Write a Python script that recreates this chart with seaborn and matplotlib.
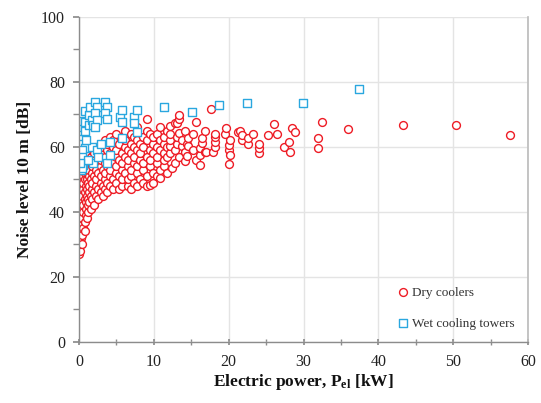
import matplotlib
matplotlib.use("Agg")
import matplotlib.pyplot as plt
import seaborn as sns
import pandas as pd
from matplotlib.ticker import MultipleLocator

# Dry coolers: electric power [kW] and noise level at 10 m [dB]
dry_power = [
    0.05, 0.05, 0.05, 0.05,
    0.15, 0.15, 0.15, 0.15, 0.15,
    0.25, 0.25, 0.25, 0.25, 0.25,
    0.35, 0.35, 0.35, 0.35, 0.35,
    0.45, 0.45, 0.45, 0.45, 0.45, 0.45,
    0.6, 0.6, 0.6, 0.6, 0.6, 0.6,
    0.75, 0.75, 0.75, 0.75, 0.75, 0.75,
    0.9, 0.9, 0.9, 0.9, 0.9, 0.9,
    1.05, 1.05, 1.05, 1.05, 1.05, 1.05,
    1.2, 1.2, 1.2, 1.2, 1.2, 1.2,
    1.4, 1.4, 1.4, 1.4, 1.4, 1.4,
    1.6, 1.6, 1.6, 1.6, 1.6,
    1.8, 1.8, 1.8, 1.8, 1.8, 1.8,
    2.0, 2.0, 2.0, 2.0, 2.0,
    2.3, 2.3, 2.3, 2.3, 2.3, 2.3,
    2.6, 2.6, 2.6, 2.6, 2.6,
    2.9, 2.9, 2.9, 2.9, 2.9, 2.9,
    3.2, 3.2, 3.2, 3.2, 3.2,
    3.5, 3.5, 3.5, 3.5, 3.5, 3.5,
    3.8, 3.8, 3.8, 3.8, 3.8,
    4.1, 4.1, 4.1, 4.1, 4.1, 4.1,
    4.5, 4.5, 4.5, 4.5, 4.5,
    4.9, 4.9, 4.9, 4.9, 4.9, 4.9,
    5.3, 5.3, 5.3, 5.3,
    5.7, 5.7, 5.7, 5.7, 5.7, 5.7,
    6.1, 6.1, 6.1, 6.1, 6.1,
    6.5, 6.5, 6.5, 6.5, 6.5,
    6.9, 6.9, 6.9, 6.9, 6.9, 6.9,
    7.3, 7.3, 7.3, 7.3, 7.3,
    7.8, 7.8, 7.8, 7.8, 7.8, 7.8,
    8.2, 8.2, 8.2, 8.2,
    8.6, 8.6, 8.6, 8.6, 8.6,
    9.1, 9.1, 9.1, 9.1, 9.1, 9.1,
    9.5, 9.5, 9.5, 9.5, 9.5,
    9.9, 9.9, 9.9, 9.9, 9.9,
    10.4, 10.4, 10.4, 10.4, 10.4,
    10.8, 10.8, 10.8, 10.8, 10.8,
    11.3, 11.3, 11.3, 11.3, 11.3,
    11.8, 11.8, 11.8, 11.8,
    12.2, 12.2, 12.2, 12.2, 12.2,
    12.4,
    12.8, 12.8, 12.8,
    13.1, 13.1, 13.1,
    13.3, 13.3, 13.3, 13.3,
    13.7, 13.7,
    14.1, 14.1, 14.1,
    14.4, 14.4,
    14.6, 14.6,
    15.2, 15.2,
    15.7, 15.7,
    16.2, 16.2, 16.2,
    16.4, 16.4,
    16.8, 16.8,
    17.0, 17.7, 17.9,
    18.2, 18.2, 18.2, 18.2,
    19.5, 19.7,
    20.0, 20.0, 20.0,
    20.2, 20.2,
    21.3, 21.5,
    21.8, 21.8,
    22.6, 22.6,
    23.3,
    24.0, 24.0, 24.0,
    25.3, 26.0, 26.4, 27.4, 28.0, 28.2, 28.4, 28.9,
    32.0, 32.0, 32.5, 36.0, 43.3, 50.4, 57.6,
]
dry_noise = [
    27, 29, 31, 33,
    28, 30, 34, 36, 38,
    32, 35, 37, 40, 42,
    30, 39, 41, 44, 46,
    33, 36, 38, 43, 45, 48,
    35, 40, 42, 47, 49, 51,
    34, 37, 44, 46, 50, 52,
    39, 41, 43, 48, 53, 55,
    38, 45, 47, 50, 52, 56,
    40, 42, 44, 49, 54, 57,
    43, 46, 48, 51, 53, 58,
    41, 45, 50, 55, 57,
    44, 47, 49, 52, 54, 59,
    42, 46, 51, 56, 58,
    45, 48, 50, 53, 55, 60,
    44, 47, 52, 57, 59,
    46, 49, 51, 54, 56, 61,
    45, 48, 53, 58, 60,
    47, 50, 52, 55, 57, 62,
    46, 49, 54, 59, 61,
    48, 51, 53, 56, 58, 63,
    47, 50, 55, 60, 62,
    49, 52, 54, 57, 59, 64,
    47, 51, 56, 61,
    48, 50, 53, 55, 58, 63,
    52, 57, 60, 62, 65,
    48, 50, 54, 56, 59,
    47, 51, 53, 58, 61, 64,
    49, 55, 57, 60, 63,
    48, 52, 54, 59, 62, 66,
    50, 56, 58, 61,
    49, 53, 55, 60, 63,
    48, 51, 57, 62, 65, 68.5,
    48.2, 54, 56, 59, 64,
    49, 52, 58, 61, 63,
    51, 55, 57, 60, 64,
    50.3, 53, 59, 62, 66,
    54, 56, 58, 61, 63,
    52, 57, 60, 65,
    58.1, 60.2, 62, 64, 66.4,
    53.5,
    55, 59, 67.4,
    61, 63, 67.2,
    57, 64.3, 68.7, 69.8,
    60.2, 62.2,
    55.5, 58.5, 65,
    57.3, 61,
    60.2, 62.8,
    59, 64,
    56, 67.7,
    54.4, 57.6, 59.7,
    61.2, 62.6,
    58.5, 65,
    58.5, 71.6, 58.5,
    60, 61.5, 63.1, 64,
    64.1, 65.7,
    54.6, 59, 60.5,
    57.5, 62.1,
    64.6, 65,
    62.1, 63.6,
    61, 62.6,
    64.1,
    58, 59.5, 61,
    63.6, 67, 64.1, 60, 61.5, 58.5, 65.7, 64.6,
    59.6, 62.7, 67.6, 65.6, 66.6, 66.6, 63.5,
]

# Wet cooling towers
wet_power = [
    0.2, 0.3, 0.4, 0.4, 0.6, 0.6, 0.8, 0.8, 0.8, 1.3, 1.3, 1.5, 1.7, 1.9,
    2.2, 2.4, 2.2, 2.4, 2.2, 3.5, 3.7, 3.5, 3.7, 5.5, 5.7, 5.7, 7.3, 7.3,
    7.7, 11.3, 15.1, 18.7, 22.4, 29.9, 37.4,
    0.4, 0.8, 0.4, 0.4, 0.6, 0.4, 1.7, 2.4, 1.9, 2.6, 3.7, 4.1, 4.1, 5.7,
    7.7, 1.2, 0.2, 2.9, 1.0,
]
wet_noise = [
    57, 53, 63, 65, 66, 68, 71, 67.7, 65, 69.8, 66.7, 72.3, 68.2, 66.7,
    73.8, 72.3, 70.3, 68.2, 66.2, 73.8, 72.3, 70.3, 68.7, 69.2, 71.3, 67.7, 69.2, 67.2,
    71.3, 72.3, 70.8, 72.8, 73.5, 73.5, 77.8,
    61, 59.5, 59, 56.9, 54.4, 53.4, 60, 59, 54.9, 56.9, 54.9, 57.4, 61.5, 62.6,
    64.6, 56, 55, 61, 62,
]

series_names = ["Dry coolers", "Wet cooling towers"]
series_colors = ["#ee1c25", "#2aa7df"]
series_markers = ["o", "s"]

dry = pd.DataFrame({"power": dry_power, "noise": dry_noise})
wet = pd.DataFrame({"power": wet_power, "noise": wet_noise})

sns.set_theme(style="white")
plt.rcParams["font.family"] = ["Liberation Serif", "DejaVu Serif"]
plt.rcParams["mathtext.fontset"] = "custom"
plt.rcParams["mathtext.rm"] = "Liberation Serif:bold"
plt.rcParams["mathtext.it"] = "Liberation Serif:italic:bold"
plt.rcParams["mathtext.bf"] = "Liberation Serif:bold"

fig = plt.figure(figsize=(5.41, 4.03), dpi=100)
ax = fig.add_axes([0.146, 0.152, 0.830, 0.806])

for df, name, col, mk, size in zip([dry, wet], series_names, series_colors,
                                   series_markers, [32, 28]):
    sns.scatterplot(data=df, x="power", y="noise", marker=mk, s=size,
                    linewidth=1.0, ax=ax, label=name, legend=False)
    coll = ax.collections[-1]
    coll.set_facecolor("white")
    coll.set_edgecolor(col)
    coll.set_linewidth(1.0)

ax.set_xlim(0, 60)
ax.set_ylim(0, 100)
ax.xaxis.set_major_locator(MultipleLocator(10))
ax.xaxis.set_minor_locator(MultipleLocator(5))
ax.yaxis.set_major_locator(MultipleLocator(20))
ax.yaxis.set_minor_locator(MultipleLocator(10))
ax.grid(True, which="major", color="#e4e4e4", linewidth=1.0)
ax.set_axisbelow(True)

for side in ["left", "bottom"]:
    ax.spines[side].set_color("#8c8c8c")
    ax.spines[side].set_linewidth(1.0)
ax.spines["right"].set_color("#bdbdbd")
ax.spines["top"].set_visible(False)

ax.tick_params(axis="x", which="both", direction="inout", length=5,
               color="#8c8c8c", labelsize=11.5, pad=6, bottom=True)
ax.tick_params(axis="y", which="both", direction="out", length=4,
               color="#8c8c8c", labelsize=11.5, pad=6, left=True)
for lbl in ax.get_xticklabels() + ax.get_yticklabels():
    lbl.set_color("#222222")

ax.set_xlabel(r"Electric power, P$_{\rm el}$ [kW]", fontsize=12.5,
              fontweight="bold", color="#111111", labelpad=2)
ax.set_ylabel("Noise level 10 m [dB]", fontsize=12.5, fontweight="bold",
              color="#111111", labelpad=6)

leg = ax.legend(loc="lower right", bbox_to_anchor=(0.997, 0.0),
                frameon=False, fontsize=9.5, labelspacing=1.45,
                handletextpad=0.2, handlelength=1.0, markerscale=1.0)
for txt in leg.get_texts():
    txt.set_color("#333333")

fig.savefig("out.png", dpi=100)
